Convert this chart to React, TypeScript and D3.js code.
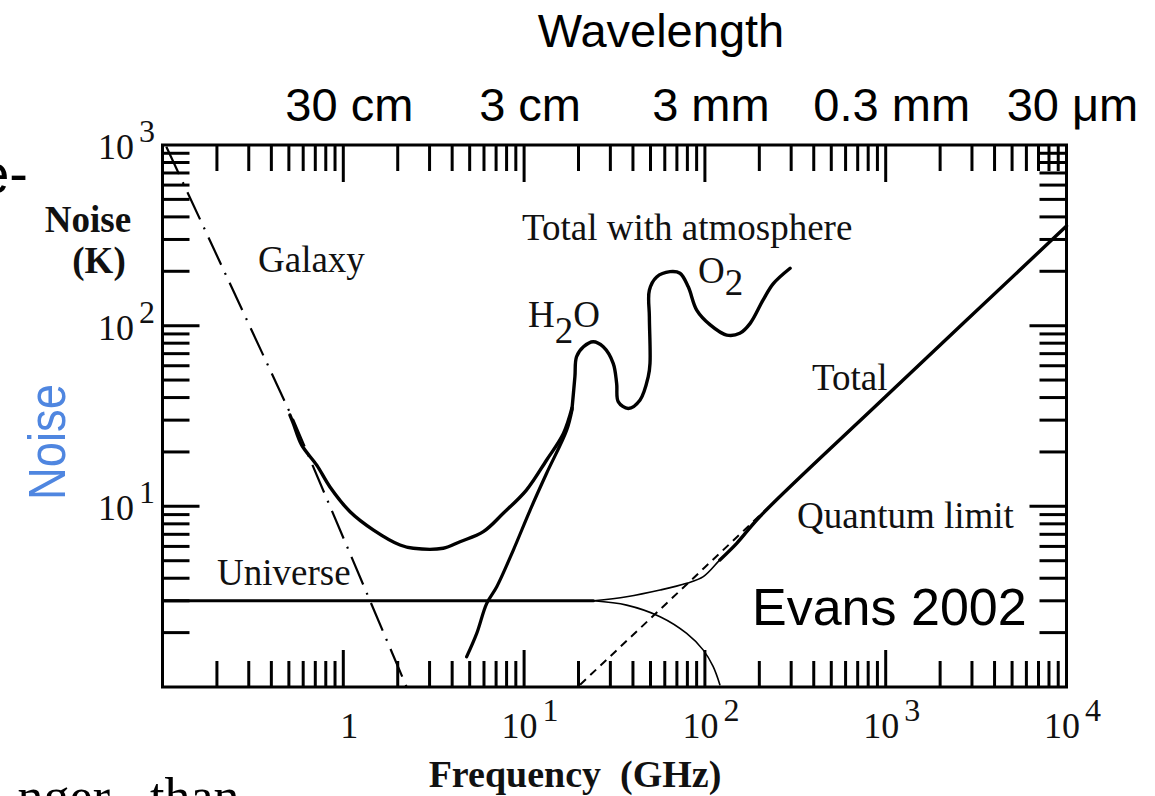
import React from 'react';
import * as d3 from 'd3';

// Galaxy (dash-dot) power law
const galaxyFreq = [0.105, 0.53, 1.4, 2.24];
const galaxyTemp = [977, 30, 3.03, 1.0];

// Galaxy + universe (U shaped curve)
const skyFreq = [0.507, 0.529, 0.589, 0.713, 0.844, 1.09, 1.47, 2.06, 2.44, 3.57, 4.42, 5.95, 7.67, 10.3, 13.3, 16.5, 18.4];
const skyTemp = [32, 28.8, 21.8, 16.9, 12.8, 9.34, 7.39, 6.11, 5.86, 5.86, 6.37, 7.24, 9.15, 12.3, 18.0, 25.3, 35.0];

// atmosphere rising from the bottom
const atmRiseFreq = [4.81, 5.47, 6.21, 7.06, 8.72, 10.8, 13.3, 17.2, 18.4];
const atmRiseTemp = [1.47, 1.98, 2.9, 3.59, 5.73, 9.54, 15.2, 26.4, 34.1];

// total with atmosphere (H2O and O2 lines)
const atmFreq = [18.4, 19.1, 19.5, 21.3, 24.1, 27.4, 31.1, 32.5, 33.2, 37.7, 43.8, 48.6, 49.7, 49.3, 49.3, 54.1, 64.1, 72.8, 80.9, 90.1, 107, 132, 156, 178, 210, 239, 296];
const atmTemp = [34.5, 52.2, 67.3, 76.4, 81.5, 76.4, 61.9, 47.9, 37.9, 34.8, 38.8, 52.2, 61.9, 112, 157, 186, 199, 195, 164, 122, 101, 88.7, 90.7, 103, 139, 171, 208];

// universe (CMB) level and its fall off
const cmbFreq = [0.1, 24.2];
const cmbTemp = [3.0, 3.0];
const cmbFallFreq = [24.2, 36.9, 56.5, 79.3, 98, 111, 121];
const cmbFallTemp = [3.0, 2.84, 2.45, 1.98, 1.6, 1.3, 1.03];

// total (universe + quantum), thin part then thick part
const totalThinFreq = [24.2, 36.9, 56.5, 79.3, 98, 121, 150, 201];
const totalThinTemp = [3.0, 3.16, 3.44, 3.75, 4.08, 5.05, 6.24, 8.76];
const totalFreq = [121, 150, 201, 1000, 10000];
const totalTemp = [5.05, 6.24, 8.76, 40.5, 356];

// quantum limit (dashed)
const quantumFreq = [20.4, 100, 1000, 10000];
const quantumTemp = [1.03, 4.6, 40.5, 356];

const freqLabels = [1, 10, 100, 1000, 10000];
const tempLabels = [10, 100, 1000];
const wavelengthFreq = [1, 10, 100, 1000, 10000];
const wavelengthLabels = ['30 cm', '3 cm', '3 mm', '0.3 mm', '30 μm'];

const width = 1155;
const height = 796;
const left = 162.5;
const right = 1066.5;
const top = 145;
const bottom = 687;

const x = d3.scaleLog().domain([0.1, 1e4]).range([left, right]);
const y = d3.scaleLog().domain([1, 1000]).range([bottom, top]);

const zip = (fs: number[], ts: number[]) => fs.map((f, i) => [f, ts[i]] as [number, number]);

const straight = d3.line<[number, number]>().x(d => x(d[0])).y(d => y(d[1]));
const smooth = d3
  .line<[number, number]>()
  .x(d => x(d[0]))
  .y(d => y(d[1]))
  .curve(d3.curveCatmullRom.alpha(0.5));

const serif = '"Liberation Serif", "Times New Roman", serif';
const sans = '"Liberation Sans", Arial, sans-serif';
const ink = '#111';

const isMajor = (v: number) => Math.abs(Math.log10(v) - Math.round(Math.log10(v))) < 1e-9;

export default function App() {
  const xTicks = x.ticks().filter(v => v > 0.1 && v < 1e4);
  const yTicks = y.ticks().filter(v => v > 1 && v < 1000);

  return (
    <svg
      width={width}
      height={height}
      style={{ position: 'absolute', left: 0, top: 0, background: '#fff' }}
    >
      {/* slide fragments */}
      <text x={28} y={193} textAnchor="end" fontFamily={sans} fontSize={56} fill="#000">
        e-
      </text>
      <text x={110} y={814} textAnchor="end" fontFamily={serif} fontSize={52} fill="#000">
        nger
      </text>
      <text x={150} y={814} fontFamily={serif} fontSize={52} fill="#000">
        than
      </text>

      {/* wavelength axis */}
      <text x={661} y={47} textAnchor="middle" fontFamily={sans} fontSize={47} fill="#000">
        Wavelength
      </text>
      {wavelengthLabels.map((t, i) => (
        <text
          key={t}
          x={x(wavelengthFreq[i]) + 6}
          y={121}
          textAnchor="middle"
          fontFamily={sans}
          fontSize={47}
          fill="#000"
        >
          {t}
        </text>
      ))}

      {/* blue axis title */}
      <text
        transform="translate(65,442) rotate(-90)"
        textAnchor="middle"
        fontFamily={sans}
        fontSize={52}
        textLength={116}
        lengthAdjust="spacingAndGlyphs"
        fill="#4f86e0"
      >
        Noise
      </text>

      {/* curves */}
      <g fill="none" stroke="#000" strokeLinecap="round" strokeLinejoin="round">
        <path d={straight(zip(cmbFreq, cmbTemp)) || ''} strokeWidth={3} />
        <path d={smooth(zip(cmbFallFreq, cmbFallTemp)) || ''} strokeWidth={1.6} />
        <path d={smooth(zip(totalThinFreq, totalThinTemp)) || ''} strokeWidth={1.6} />
        <path
          d={straight(zip(quantumFreq, quantumTemp)) || ''}
          strokeWidth={2}
          strokeDasharray="8,6"
          strokeLinecap="butt"
        />
        <path d={smooth(zip(totalFreq, totalTemp)) || ''} strokeWidth={3.4} />
        <path
          d={straight(zip(galaxyFreq, galaxyTemp)) || ''}
          strokeWidth={2.2}
          strokeDasharray="30,9,2,9"
          strokeLinecap="butt"
        />
        <path d={smooth(zip(skyFreq, skyTemp)) || ''} strokeWidth={3.4} />
        <path d={smooth(zip(atmRiseFreq, atmRiseTemp)) || ''} strokeWidth={3.2} />
        <path d={smooth(zip(atmFreq, atmTemp)) || ''} strokeWidth={3.4} />
      </g>

      {/* frame and ticks */}
      <rect
        x={left}
        y={top}
        width={right - left}
        height={bottom - top}
        fill="none"
        stroke="#000"
        strokeWidth={3}
      />
      <g stroke="#000" strokeWidth={3}>
        {xTicks.map(v => {
          const len = isMajor(v) ? 37 : 26;
          return (
            <g key={'x' + v}>
              <line x1={x(v)} x2={x(v)} y1={top} y2={top + len} />
              <line x1={x(v)} x2={x(v)} y1={bottom} y2={bottom - len} />
            </g>
          );
        })}
        {yTicks.map(v => {
          const len = isMajor(v) ? 37 : 27;
          return (
            <g key={'y' + v}>
              <line x1={left} x2={left + len} y1={y(v)} y2={y(v)} />
              <line x1={right} x2={right - len} y1={y(v)} y2={y(v)} />
            </g>
          );
        })}
      </g>

      {/* tick labels */}
      <g fontFamily={serif} fill={ink}>
        {freqLabels.map(v => {
          const e = Math.round(Math.log10(v));
          return (
            <text key={'fl' + v} x={x(v) + 6} y={738} textAnchor="middle" fontSize={36}>
              {e === 0 ? (
                '1'
              ) : (
                <>
                  10
                  <tspan dx={5} dy={-17} fontSize={32}>
                    {e}
                  </tspan>
                </>
              )}
            </text>
          );
        })}
        {tempLabels.map(v => {
          const e = Math.round(Math.log10(v));
          return (
            <text key={'tl' + v} x={155} y={y(v) + 14} textAnchor="end" fontSize={36}>
              10
              <tspan dx={5} dy={-17} fontSize={32}>
                {e}
              </tspan>
            </text>
          );
        })}
      </g>

      {/* axis titles */}
      <g fontFamily={serif} fill={ink} fontWeight="bold" fontSize={37}>
        <text x={88} y={232} textAnchor="middle">
          Noise
        </text>
        <text x={99} y={273} textAnchor="middle">
          (K)
        </text>
        <text x={575} y={787} textAnchor="middle" xmlSpace="preserve" fontSize={38}>
          Frequency  (GHz)
        </text>
      </g>

      {/* annotations */}
      <g fontFamily={serif} fill={ink} fontSize={37}>
        <text x={258} y={272}>Galaxy</text>
        <text x={217} y={585}>Universe</text>
        <text x={522} y={240}>Total with atmosphere</text>
        <text x={528} y={327}>
          H<tspan dy={16}>2</tspan>
          <tspan dy={-16}>O</tspan>
        </text>
        <text x={698} y={283}>
          O<tspan dy={12}>2</tspan>
        </text>
        <text x={812} y={390}>Total</text>
        <text x={797} y={528}>Quantum limit</text>
      </g>

      <text x={752} y={625} fontFamily={sans} fontSize={52} fill="#000">
        Evans 2002
      </text>
    </svg>
  );
}
